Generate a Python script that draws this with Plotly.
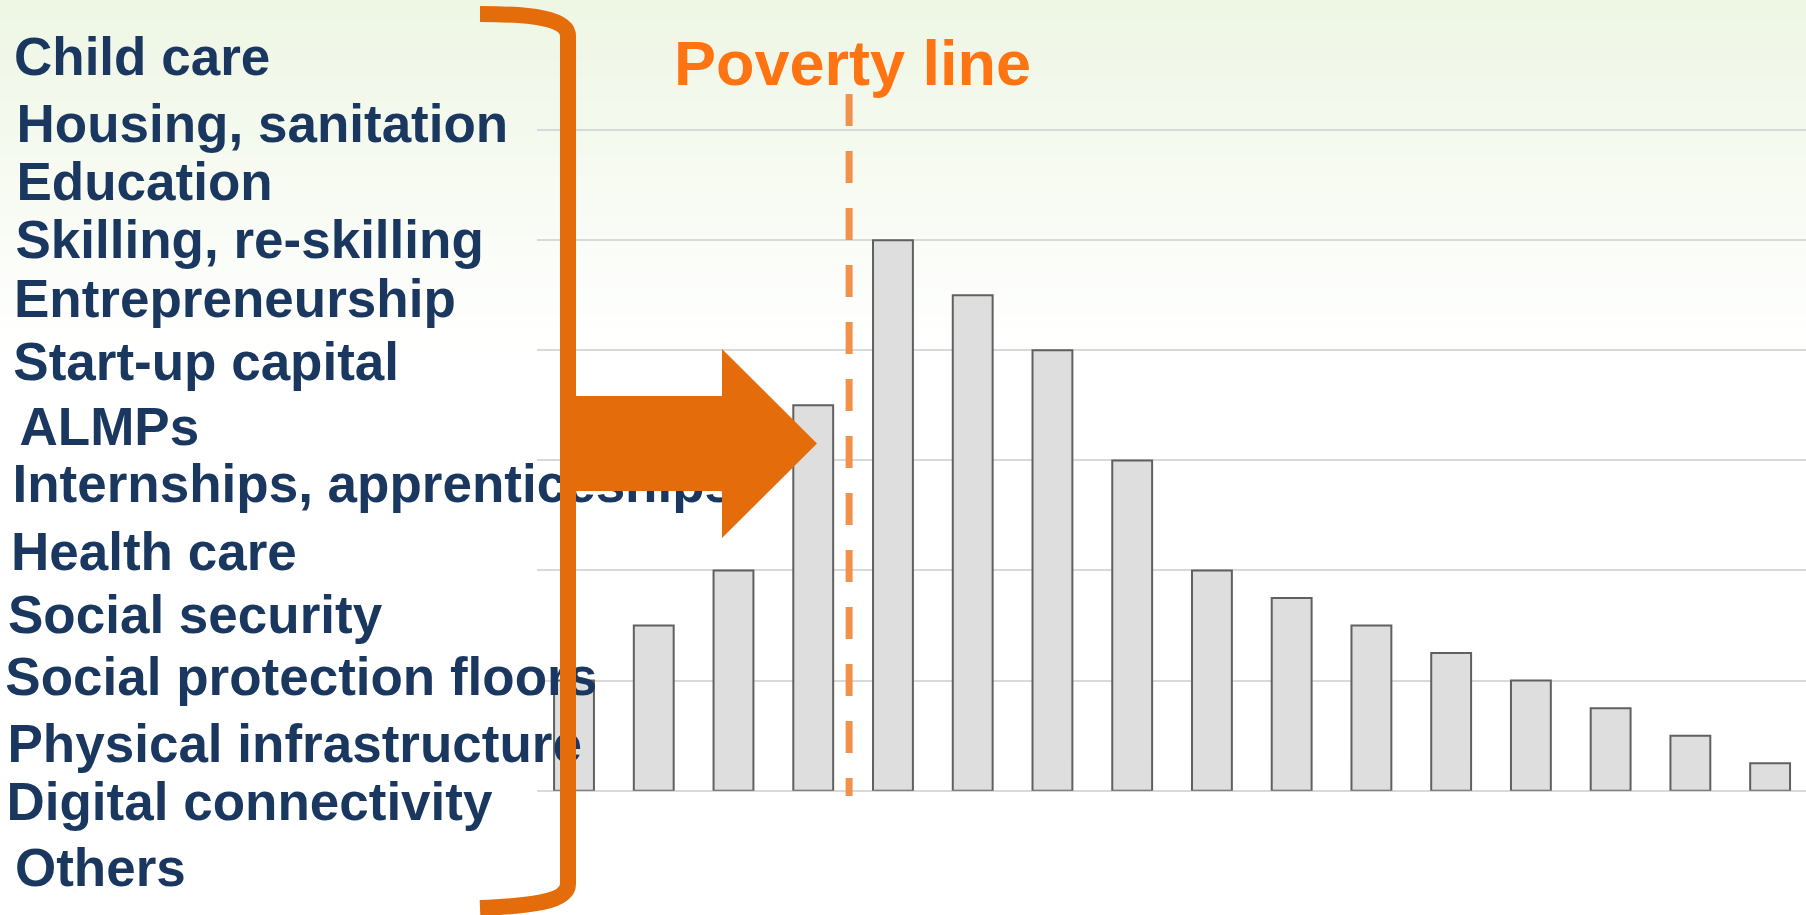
import plotly.graph_objects as go

# ---------------- data ----------------
income_groups = ["G01", "G02", "G03", "G04", "G05", "G06", "G07", "G08",
                 "G09", "G10", "G11", "G12", "G13", "G14", "G15", "G16"]
share_values = [1.0, 1.5, 2.0, 3.5, 5.0, 4.5, 4.0, 3.0,
                2.0, 1.75, 1.5, 1.25, 1.0, 0.75, 0.5, 0.25]
instruments = ["Child care", "Housing, sanitation", "Education",
               "Skilling, re-skilling", "Entrepreneurship", "Start-up capital",
               "ALMPs", "Internships, apprenticeships", "Health care",
               "Social security", "Social protection floors",
               "Physical infrastructure", "Digital connectivity", "Others"]
poverty_label = "Poverty line"
poverty_position = 3.45          # between the 4th and 5th group

# ---------------- layout constants (pixels) ----------------
W, H = 1806, 915
PLOT_L, PLOT_B = 537, 790.7
UNIT_PX = 110.1                  # pixels per y unit
Y_MAX = 6.05
PLOT_T = PLOT_B - Y_MAX * UNIT_PX
FONT = "Liberation Sans, Arial, Helvetica, sans-serif"
NAVY = "#1a375f"
ORANGE = "#e46c0a"

label_x = [14, 16.5, 16.5, 15.5, 14, 13.3, 19.5, 12.5, 11, 8, 5.3, 7.5, 6.5, 15]
label_baseline = [75, 142, 200, 258, 317, 380, 445, 502, 570, 633, 695, 762, 820, 886]
LABEL_SIZE = 53
TITLE_SIZE = 63

fig = go.Figure()

fig.add_trace(go.Bar(
    x=income_groups, y=share_values, width=0.5,
    marker=dict(color="#dedede", line=dict(color="#606060", width=2)),
    hoverinfo="skip", showlegend=False,
))

# left-hand list of instruments (pixel overlay axes)
fig.add_trace(go.Scatter(
    x=label_x, y=[b - 0.35 * LABEL_SIZE + 5 for b in label_baseline],
    text=instruments, mode="text", textposition="middle right",
    textfont=dict(family=FONT, size=LABEL_SIZE, color=NAVY, weight="bold"),
    xaxis="x2", yaxis="y2", hoverinfo="skip", showlegend=False,
))

fig.add_trace(go.Scatter(
    x=[674], y=[85 - 0.35 * TITLE_SIZE + 6], text=[poverty_label],
    mode="text", textposition="middle right",
    textfont=dict(family=FONT, size=TITLE_SIZE, color="#ff7412", weight="bold"),
    xaxis="x2", yaxis="y2", hoverinfo="skip", showlegend=False,
))

shapes = []
# background gradient (light green to white)
top_rgb = (238, 246, 228)
n_bands = 70
grad_end = 350
for i in range(n_bands):
    t = i / (n_bands - 1)
    r, g, b = [round(c + (255 - c) * t) for c in top_rgb]
    y0 = i * grad_end / n_bands
    y1 = (i + 1) * grad_end / n_bands + 0.6
    shapes.append(dict(type="rect", xref="paper", yref="paper",
                       x0=0, x1=1, y0=1 - y1 / H, y1=1 - y0 / H,
                       fillcolor=f"rgb({r},{g},{b})", line=dict(width=0),
                       layer="below"))

# orange bracket
shapes.append(dict(
    type="path", xref="x2", yref="y2", layer="above",
    path="M 480,14 C 530,14 568,18 568,36 L 568,884 C 568,902 530,906 480,908",
    line=dict(color=ORANGE, width=16), fillcolor="rgba(0,0,0,0)"))
# block arrow
shapes.append(dict(
    type="path", xref="x2", yref="y2", layer="above",
    path="M 561,396 L 722,396 L 722,349 L 817,443.5 L 722,538 L 722,491 L 561,491 Z",
    line=dict(width=0), fillcolor=ORANGE))
# poverty line
shapes.append(dict(
    type="line", xref="x", yref="y2", layer="above",
    x0=poverty_position, x1=poverty_position, y0=94, y1=796,
    line=dict(color="#f0914c", width=7, dash="32px,25px")))

fig.update_layout(
    width=W, height=H,
    margin=dict(l=0, r=0, t=0, b=0, pad=0),
    paper_bgcolor="white", plot_bgcolor="rgba(0,0,0,0)",
    bargap=0.5,
    xaxis=dict(domain=[PLOT_L / W, 1], range=[-0.464, 15.45], type="category",
               showticklabels=False, showgrid=False, zeroline=False,
               showline=False, ticks=""),
    yaxis=dict(domain=[(H - PLOT_B) / H, (H - PLOT_T) / H], range=[0, Y_MAX],
               tick0=0, dtick=1, showticklabels=False, showgrid=True,
               gridcolor="#d9d9d9", gridwidth=2, zeroline=True,
               zerolinecolor="#d9d9d9", zerolinewidth=2, showline=False, ticks=""),
    xaxis2=dict(domain=[0, 1], range=[0, W], visible=False, anchor="y2",
                fixedrange=True),
    yaxis2=dict(domain=[0, 1], range=[H, 0], visible=False, anchor="x2",
                fixedrange=True),
    shapes=shapes,
    showlegend=False,
)

fig.write_html(
    "out.html",
    config={"displayModeBar": False, "staticPlot": True},
    post_script="document.body.style.margin='0';document.body.style.overflow='hidden';",
)
